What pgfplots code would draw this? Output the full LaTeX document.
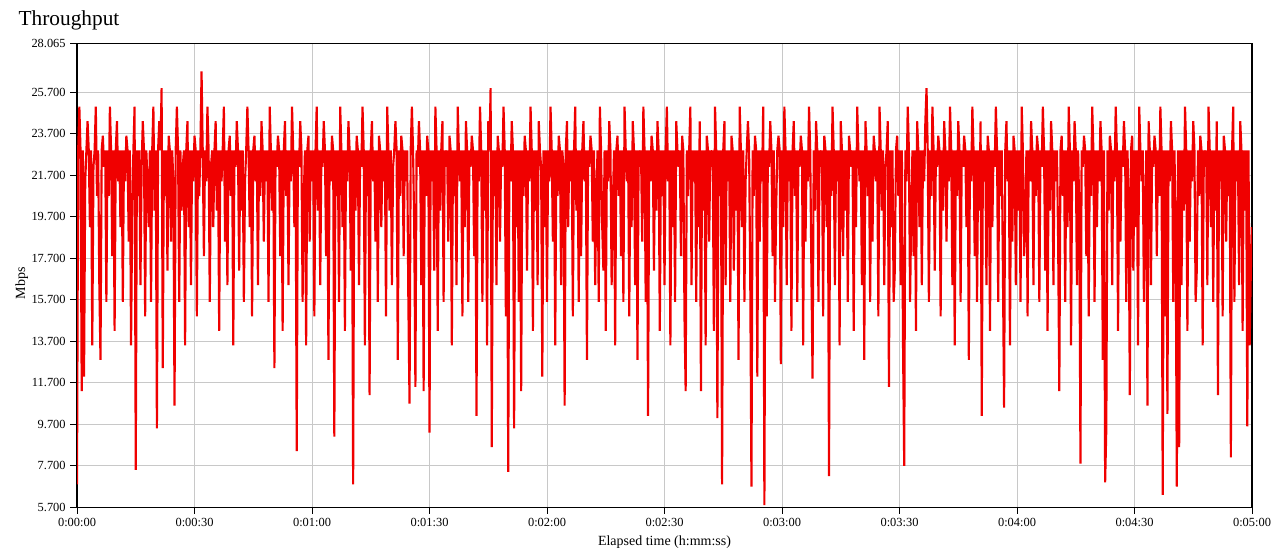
\documentclass[border=0pt]{standalone}
\usepackage{fontspec}
\setmainfont{Liberation Serif}
\usepackage{pgfplots}
\usepackage{pgfplotstable}
\pgfplotsset{compat=1.18}
\definecolor{gridgray}{RGB}{200,200,200}
\definecolor{tracered}{RGB}{240,0,0}

% throughput samples, one every 0.3 s (Mbps)
\pgfplotstableread[row sep=\\, header=false]{
6.8\\22.9\\25.0\\22.9\\11.3\\22.9\\12.0\\21.4\\22.9\\24.3\\22.9\\19.2\\22.9\\13.5\\22.1\\22.9\\25.0\\20.7\\22.9\\16.4\\
12.8\\22.9\\23.6\\22.1\\22.9\\15.6\\22.9\\20.7\\25.0\\22.9\\17.8\\22.9\\14.2\\22.9\\24.3\\21.4\\22.9\\19.2\\22.9\\15.6\\
22.9\\21.4\\23.6\\22.9\\18.5\\22.9\\13.5\\20.0\\22.9\\25.0\\7.5\\22.9\\20.7\\22.9\\16.4\\22.1\\24.3\\22.9\\14.9\\22.9\\
21.4\\19.2\\22.9\\15.6\\22.9\\25.0\\20.0\\22.9\\9.5\\22.9\\24.3\\22.9\\25.9\\12.4\\22.9\\20.7\\22.9\\17.1\\23.6\\22.9\\
18.5\\22.9\\21.4\\10.6\\22.9\\25.0\\22.9\\15.6\\22.9\\20.0\\22.1\\22.9\\13.5\\22.9\\24.3\\19.2\\22.9\\16.4\\22.9\\21.4\\
23.6\\22.9\\14.9\\22.9\\20.7\\22.9\\26.7\\22.9\\17.8\\22.9\\21.4\\25.0\\22.9\\15.6\\22.1\\22.9\\19.2\\22.9\\24.3\\20.0\\
22.9\\14.2\\22.9\\21.4\\22.9\\25.0\\18.5\\22.9\\16.4\\22.9\\23.6\\20.7\\22.9\\13.5\\22.9\\22.1\\24.3\\22.9\\17.1\\22.9\\
20.0\\22.9\\15.6\\21.4\\22.9\\25.0\\22.9\\19.2\\22.9\\14.9\\22.9\\23.6\\21.4\\22.9\\16.4\\22.9\\20.7\\24.3\\22.9\\18.5\\
22.9\\21.4\\22.9\\15.6\\25.0\\22.9\\20.0\\22.9\\12.4\\22.9\\22.1\\23.6\\22.9\\17.8\\22.9\\14.2\\22.9\\24.3\\20.7\\22.9\\
16.4\\22.9\\21.4\\25.0\\22.9\\19.2\\22.9\\8.4\\22.9\\22.1\\24.3\\22.9\\15.6\\20.7\\22.9\\13.5\\22.9\\23.6\\18.5\\22.9\\
21.4\\22.9\\14.9\\22.9\\25.0\\20.0\\22.9\\16.4\\22.9\\22.1\\24.3\\22.9\\17.8\\22.9\\12.8\\22.9\\21.4\\23.6\\22.9\\9.1\\
22.9\\20.7\\22.9\\15.6\\25.0\\22.9\\19.2\\22.9\\14.2\\22.9\\21.4\\24.3\\22.9\\17.1\\22.9\\6.8\\22.9\\20.0\\23.6\\22.9\\
16.4\\22.9\\22.1\\25.0\\22.9\\13.5\\22.9\\20.7\\22.9\\11.1\\22.9\\24.3\\21.4\\22.9\\18.5\\22.9\\15.6\\23.6\\22.9\\19.2\\
22.9\\21.4\\22.9\\14.9\\25.0\\22.9\\20.0\\22.9\\16.4\\22.1\\22.9\\24.3\\22.9\\12.8\\22.9\\20.7\\23.6\\22.9\\17.8\\22.9\\
21.4\\22.9\\15.6\\10.7\\22.9\\25.0\\22.9\\19.2\\11.5\\22.9\\22.1\\24.3\\22.9\\16.4\\22.9\\11.3\\22.9\\20.7\\23.6\\22.9\\
9.3\\22.9\\21.4\\22.9\\17.1\\25.0\\22.9\\14.2\\22.9\\20.0\\22.9\\24.3\\15.6\\22.9\\22.1\\22.9\\18.5\\23.6\\22.9\\13.5\\
22.9\\20.7\\22.9\\16.4\\25.0\\22.9\\21.4\\22.9\\14.9\\22.9\\19.2\\24.3\\22.9\\15.6\\22.9\\22.1\\23.6\\22.9\\17.8\\22.9\\
10.1\\22.9\\21.4\\25.0\\22.9\\15.6\\22.9\\20.0\\22.9\\13.5\\24.3\\22.9\\25.9\\8.6\\22.9\\20.7\\22.9\\16.4\\23.6\\22.9\\
18.5\\22.9\\22.1\\25.0\\22.9\\14.9\\22.9\\7.4\\22.9\\21.4\\24.3\\22.9\\9.5\\22.9\\19.2\\22.9\\15.6\\22.9\\11.3\\22.9\\
20.7\\23.6\\22.9\\17.1\\22.9\\21.4\\25.0\\22.9\\14.2\\22.9\\20.0\\22.9\\16.4\\24.3\\22.9\\22.1\\12.0\\22.9\\19.2\\22.9\\
15.6\\22.9\\21.4\\25.0\\22.9\\18.5\\22.9\\13.5\\22.9\\20.7\\23.6\\22.9\\16.4\\22.9\\22.1\\10.6\\22.9\\24.3\\19.2\\22.9\\
21.4\\22.9\\14.9\\22.9\\25.0\\20.0\\22.9\\15.6\\22.9\\17.8\\22.9\\24.3\\21.4\\22.9\\12.8\\22.9\\22.1\\23.6\\22.9\\18.5\\
22.9\\16.4\\20.7\\22.9\\15.6\\25.0\\22.9\\19.2\\17.1\\22.9\\14.2\\22.9\\21.4\\24.3\\22.9\\16.4\\20.0\\22.9\\13.5\\22.9\\
23.6\\20.7\\22.9\\17.8\\22.9\\15.6\\25.0\\22.9\\21.4\\22.9\\14.9\\22.9\\19.2\\24.3\\22.9\\16.4\\22.9\\12.8\\22.9\\22.1\\
22.9\\18.5\\25.0\\22.9\\15.6\\22.9\\10.1\\22.9\\21.4\\23.6\\22.9\\17.1\\22.9\\20.0\\24.3\\22.9\\14.2\\22.9\\20.7\\22.9\\
16.4\\22.9\\25.0\\21.4\\22.9\\13.5\\22.9\\19.2\\22.9\\15.6\\24.3\\22.9\\22.1\\22.9\\17.8\\23.6\\22.9\\14.9\\11.3\\22.9\\
20.7\\22.9\\25.0\\16.4\\22.9\\21.4\\22.9\\15.6\\22.9\\19.2\\24.3\\11.3\\22.9\\20.0\\22.9\\13.5\\23.6\\22.9\\18.5\\22.9\\
22.1\\22.9\\14.2\\25.0\\22.9\\10.0\\22.9\\20.7\\22.9\\6.8\\22.9\\24.3\\16.4\\22.9\\21.4\\22.9\\15.6\\23.6\\22.9\\17.1\\
22.9\\20.0\\22.9\\12.8\\25.0\\22.9\\19.2\\22.9\\15.6\\21.4\\22.9\\24.3\\22.9\\16.4\\6.7\\22.9\\20.7\\23.6\\22.9\\12.0\\
22.9\\18.5\\22.9\\21.4\\25.0\\5.8\\22.9\\14.9\\22.9\\22.1\\24.3\\22.9\\17.8\\22.9\\15.6\\20.0\\22.9\\23.6\\22.9\\12.6\\
22.9\\19.2\\25.0\\22.9\\16.4\\22.9\\21.4\\22.9\\14.2\\22.9\\24.3\\20.7\\22.9\\15.6\\22.9\\22.1\\23.6\\22.9\\13.5\\22.9\\
18.5\\22.9\\21.4\\25.0\\22.9\\17.1\\11.9\\22.9\\20.0\\24.3\\22.9\\15.6\\22.9\\22.1\\22.9\\14.9\\23.6\\22.9\\19.2\\22.9\\
7.2\\22.9\\20.7\\25.0\\22.9\\16.4\\22.9\\21.4\\22.9\\13.5\\24.3\\22.9\\17.8\\22.9\\20.0\\22.9\\15.6\\23.6\\22.9\\22.1\\
22.9\\14.2\\22.9\\19.2\\25.0\\22.9\\21.4\\22.9\\16.4\\22.9\\12.8\\24.3\\22.9\\20.7\\22.9\\15.6\\22.9\\18.5\\23.6\\22.9\\
21.4\\22.9\\14.9\\25.0\\22.9\\20.0\\22.9\\16.4\\22.1\\22.9\\24.3\\11.5\\22.9\\19.2\\22.9\\15.6\\17.1\\22.9\\23.6\\20.7\\
22.9\\16.4\\22.9\\13.5\\7.7\\22.9\\21.4\\25.0\\22.9\\15.6\\20.0\\22.9\\17.8\\22.9\\14.2\\24.3\\22.9\\19.2\\22.9\\16.4\\
22.9\\21.4\\24.3\\25.9\\22.9\\15.6\\22.9\\20.7\\25.0\\22.9\\17.1\\22.9\\22.1\\23.6\\22.9\\14.9\\22.9\\20.0\\24.3\\22.9\\
18.5\\22.9\\21.4\\25.0\\22.9\\16.4\\22.9\\13.5\\22.9\\20.7\\24.3\\22.9\\15.6\\22.9\\22.1\\23.6\\22.9\\19.2\\22.9\\12.8\\
22.9\\21.4\\25.0\\22.9\\17.8\\22.9\\15.6\\22.9\\20.0\\24.3\\10.1\\22.9\\21.4\\22.9\\16.4\\23.6\\22.9\\14.2\\22.9\\19.2\\
22.9\\22.1\\25.0\\22.9\\15.6\\22.9\\20.7\\22.9\\17.1\\10.5\\22.9\\24.3\\21.4\\22.9\\13.5\\22.9\\18.5\\23.6\\22.9\\16.4\\
22.9\\20.0\\22.9\\15.6\\25.0\\22.9\\17.8\\19.2\\22.9\\14.9\\22.9\\21.4\\24.3\\22.9\\16.4\\22.9\\20.7\\23.6\\22.9\\15.6\\
22.9\\22.1\\25.0\\22.9\\17.1\\22.9\\14.2\\22.9\\20.0\\24.3\\22.9\\16.4\\22.9\\21.4\\22.9\\18.5\\11.3\\22.9\\23.6\\20.7\\
22.9\\15.6\\22.9\\19.2\\25.0\\22.9\\13.5\\22.9\\21.4\\24.3\\22.9\\16.4\\22.9\\20.0\\7.8\\22.9\\22.1\\23.6\\22.9\\17.8\\
22.9\\14.9\\22.9\\20.7\\25.0\\22.9\\15.6\\22.9\\19.2\\22.9\\21.4\\24.3\\22.9\\12.8\\22.9\\6.9\\9.5\\22.9\\20.0\\23.6\\
22.9\\16.4\\22.9\\21.4\\25.0\\22.9\\14.2\\22.9\\18.5\\22.9\\22.1\\24.3\\22.9\\15.6\\22.9\\20.7\\11.1\\22.9\\23.6\\17.1\\
22.9\\19.2\\22.9\\13.5\\25.0\\22.9\\21.4\\22.9\\15.6\\20.0\\22.9\\10.6\\24.3\\22.9\\16.4\\22.9\\22.1\\23.6\\22.9\\17.8\\
22.9\\20.7\\25.0\\22.9\\6.3\\22.9\\14.9\\22.9\\10.2\\22.9\\21.4\\24.3\\22.9\\15.6\\22.9\\19.2\\6.7\\22.9\\8.6\\22.9\\
16.4\\22.9\\20.0\\25.0\\22.9\\14.2\\22.9\\18.5\\22.9\\21.4\\24.3\\22.9\\15.6\\17.1\\22.9\\20.7\\23.6\\22.9\\13.5\\22.9\\
22.1\\22.9\\16.4\\25.0\\22.9\\19.2\\22.9\\15.6\\22.9\\20.0\\24.3\\11.1\\22.9\\21.4\\22.9\\14.9\\23.6\\22.9\\18.5\\22.9\\
20.7\\22.9\\8.1\\22.9\\25.0\\15.6\\22.9\\21.4\\22.9\\16.4\\24.3\\22.9\\14.2\\22.9\\20.0\\22.9\\9.6\\22.9\\13.5\\17.1\\
19.2\\
}\thr

\begin{document}
\begin{tikzpicture}
\path[use as bounding box] (0,0) rectangle (963pt,414.75pt);
\begin{axis}[
    at={(57.75pt,34.3pt)}, anchor=south west,
    scale only axis, width=881.25pt, height=348.1pt,
    xmin=0, xmax=300, ymin=5.7, ymax=28.065,
    xtick={0,30,60,90,120,150,180,210,240,270,300},
    xticklabels={0:00:00,0:00:30,0:01:00,0:01:30,0:02:00,0:02:30,0:03:00,0:03:30,0:04:00,0:04:30,0:05:00},
    ytick={5.7,7.7,9.7,11.7,13.7,15.7,17.7,19.7,21.7,23.7,25.7,28.065},
    yticklabels={5.700,7.700,9.700,11.700,13.700,15.700,17.700,19.700,21.700,23.700,25.700,28.065},
    grid=major, major grid style={gridgray, line width=0.7pt},
    axis line style={black, line width=0.8pt},
    tick align=outside, tick pos=left, major tick length=5pt,
    tick style={black, line width=0.6pt},
    ticklabel style={font=\fontsize{9.3}{10}\selectfont},
    xlabel={Elapsed time (h:mm:ss)}, ylabel={Mbps},
    label style={font=\fontsize{10.5}{12}\selectfont},
    xlabel style={at={(axis description cs:0.5,-0.075)}, anchor=center},
    ylabel style={at={(axis description cs:-0.047,0.483)}, anchor=center},
    title={Throughput},
    title style={at={(axis description cs:-0.0537,1.02)}, anchor=base west, font=\fontsize{16}{18}\selectfont},
]
\addplot[tracered, line width=1.6pt, line join=bevel] table[x expr=\coordindex*0.3, y index=0] {\thr};
\end{axis}
\end{tikzpicture}
\end{document}
